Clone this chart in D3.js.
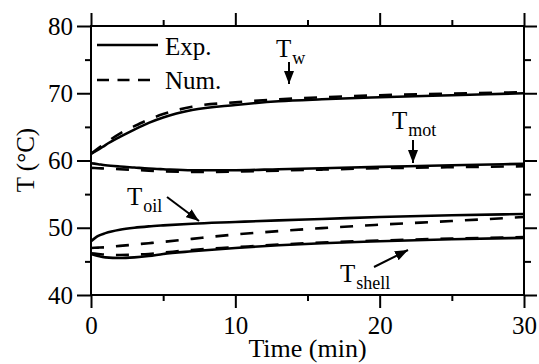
<!DOCTYPE html>
<html>
<head>
<meta charset="utf-8">
<script src="https://cdn.jsdelivr.net/npm/d3@7"></script>
<style>
  html, body { margin: 0; padding: 0; background: #fff; }
  svg { display: block; }
  svg text { font-family: "Liberation Serif", "Times New Roman", serif; font-weight: normal; fill: #000; }
</style>
</head>
<body>
<svg id="chart" width="539" height="364"></svg>
<script>
// Sampling times (min)
const time = [0, 0.5, 1, 2, 3, 4, 5, 7, 10, 13, 16, 20, 25, 30];

// Measured temperatures (°C)
const tWaterExp = [61.0, 61.6, 62.3, 63.5, 64.6, 65.6, 66.4, 67.5, 68.25, 68.8, 69.1, 69.4, 69.7, 70.0];
const tMotorExp = [59.6, 59.45, 59.3, 59.1, 58.95, 58.8, 58.7, 58.55, 58.55, 58.7, 58.85, 59.05, 59.3, 59.5];
const tOilExp   = [48.0, 48.8, 49.2, 49.7, 50.0, 50.2, 50.35, 50.6, 50.85, 51.1, 51.3, 51.6, 51.85, 52.05];
const tShellExp = [46.1, 45.8, 45.6, 45.5, 45.6, 45.8, 46.1, 46.5, 47.0, 47.4, 47.7, 48.0, 48.3, 48.5];

// Simulated temperatures (°C)
const tWaterNum = [61.0, 61.8, 62.6, 64.0, 65.1, 66.1, 66.9, 68.0, 68.65, 69.1, 69.4, 69.7, 69.95, 70.15];
const tMotorNum = [58.9, 58.85, 58.8, 58.7, 58.6, 58.5, 58.4, 58.3, 58.35, 58.5, 58.65, 58.85, 59.0, 59.15];
const tOilNum   = [47.0, 47.05, 47.1, 47.3, 47.5, 47.7, 47.9, 48.35, 49.0, 49.5, 49.95, 50.45, 51.0, 51.6];
const tShellNum = [46.2, 46.1, 46.0, 45.95, 46.0, 46.1, 46.3, 46.7, 47.1, 47.5, 47.8, 48.1, 48.4, 48.6];

// Axis ticks
const xMajor = [0, 10, 20, 30];
const xMinor = [5, 15, 25];
const yMajor = [40, 50, 60, 70, 80];
const yMinor = [45, 55, 65, 75];

const svg = d3.select("#chart");
const mLeft = 91, mRight = 524, mTop = 26, mBottom = 295;

const x = d3.scaleLinear().domain([0, 30]).range([mLeft, mRight]);
const y = d3.scaleLinear().domain([40, 80]).range([mBottom, mTop]);

const FS = 25;

// Axes: major and minor ticks pointing outward on all four sides
function styleAxis(g) {
  g.attr("font-family", null).attr("font-size", null);
  g.selectAll(".domain").remove();
  g.selectAll(".tick line").attr("stroke", "#000").attr("stroke-width", 2);
  g.selectAll("text").style("font-size", FS + "px");
}

svg.append("g").attr("transform", `translate(0,${mBottom})`)
  .call(d3.axisBottom(x).tickValues(xMajor).tickSize(13).tickFormat(d3.format("d")))
  .call(styleAxis)
  .selectAll("text").attr("dy", null).attr("y", 39);
svg.append("g").attr("transform", `translate(0,${mBottom})`)
  .call(d3.axisBottom(x).tickValues(xMinor).tickSize(6).tickFormat(""))
  .call(styleAxis);
svg.append("g").attr("transform", `translate(0,${mTop})`)
  .call(d3.axisTop(x).tickValues(xMajor).tickSize(13).tickFormat(""))
  .call(styleAxis);
svg.append("g").attr("transform", `translate(0,${mTop})`)
  .call(d3.axisTop(x).tickValues(xMinor).tickSize(6).tickFormat(""))
  .call(styleAxis);

svg.append("g").attr("transform", `translate(${mLeft},0)`)
  .call(d3.axisLeft(y).tickValues(yMajor).tickSize(14).tickPadding(4).tickFormat(d3.format("d")))
  .call(styleAxis)
  .selectAll("text").attr("dy", null).attr("y", 8);
svg.append("g").attr("transform", `translate(${mLeft},0)`)
  .call(d3.axisLeft(y).tickValues(yMinor).tickSize(6).tickFormat(""))
  .call(styleAxis);
svg.append("g").attr("transform", `translate(${mRight},0)`)
  .call(d3.axisRight(y).tickValues(yMajor).tickSize(13).tickFormat(""))
  .call(styleAxis);
svg.append("g").attr("transform", `translate(${mRight},0)`)
  .call(d3.axisRight(y).tickValues(yMinor).tickSize(7).tickFormat(""))
  .call(styleAxis);

// Plot frame
svg.append("rect")
  .attr("x", mLeft).attr("y", mTop)
  .attr("width", mRight - mLeft).attr("height", mBottom - mTop)
  .attr("fill", "none").attr("stroke", "#000").attr("stroke-width", 2);

// Axis titles
svg.append("text")
  .attr("x", x(15)).attr("y", 357)
  .attr("text-anchor", "middle").style("font-size", "26px")
  .text("Time (min)");
svg.append("text")
  .attr("transform", "translate(34,160) rotate(-90)")
  .attr("text-anchor", "middle").style("font-size", FS + "px")
  .text("T (°C)");

// Curves
const line = d3.line()
  .x(d => x(d[0]))
  .y(d => y(d[1]))
  .curve(d3.curveMonotoneX);

const series = [
  { v: tWaterNum, dash: true },
  { v: tMotorNum, dash: true },
  { v: tOilNum,   dash: true },
  { v: tShellNum, dash: true },
  { v: tWaterExp, dash: false },
  { v: tMotorExp, dash: false },
  { v: tOilExp,   dash: false },
  { v: tShellExp, dash: false }
];

svg.append("g").selectAll("path")
  .data(series)
  .join("path")
  .attr("d", s => line(time.map((t, i) => [t, s.v[i]])))
  .attr("fill", "none")
  .attr("stroke", "#000")
  .attr("stroke-width", 2.6)
  .attr("stroke-dasharray", s => s.dash ? "13,12" : null);

// Legend
const legend = svg.append("g");
legend.append("line").attr("x1", 97).attr("x2", 158).attr("y1", 45).attr("y2", 45)
  .attr("stroke", "#000").attr("stroke-width", 2.6);
legend.append("text").attr("x", 165).attr("y", 55).style("font-size", FS + "px").text("Exp.");
legend.append("line").attr("x1", 97).attr("x2", 158).attr("y1", 80).attr("y2", 80)
  .attr("stroke", "#000").attr("stroke-width", 2.6).attr("stroke-dasharray", "12,8.5");
legend.append("text").attr("x", 165).attr("y", 89).style("font-size", FS + "px").text("Num.");

// Arrow head
svg.append("defs").append("marker")
  .attr("id", "head")
  .attr("markerUnits", "userSpaceOnUse")
  .attr("markerWidth", 14).attr("markerHeight", 10)
  .attr("refX", 13).attr("refY", 5)
  .attr("orient", "auto")
  .append("path").attr("d", "M0,0 L13,5 L0,10 Z").attr("fill", "#000");

// Curve annotations
const notes = [
  { sub: "w",     tx: 276, ty: 57,  x1: 289, y1: 62,  x2: 289, y2: 84 },
  { sub: "mot",   tx: 392, ty: 129, x1: 413, y1: 140, x2: 413, y2: 163 },
  { sub: "oil",   tx: 127, ty: 205, x1: 167, y1: 197, x2: 199, y2: 221 },
  { sub: "shell", tx: 340, ty: 282, x1: 374, y1: 267, x2: 408, y2: 250 }
];

const ann = svg.append("g");
notes.forEach(n => {
  const t = ann.append("text").attr("x", n.tx).attr("y", n.ty).style("font-size", "25px");
  t.append("tspan").text("T");
  t.append("tspan").style("font-size", "18px").attr("dy", 7).attr("dx", 1).text(n.sub);
  ann.append("line")
    .attr("x1", n.x1).attr("y1", n.y1).attr("x2", n.x2).attr("y2", n.y2)
    .attr("stroke", "#000").attr("stroke-width", 2)
    .attr("marker-end", "url(#head)");
});
</script>
</body>
</html>
